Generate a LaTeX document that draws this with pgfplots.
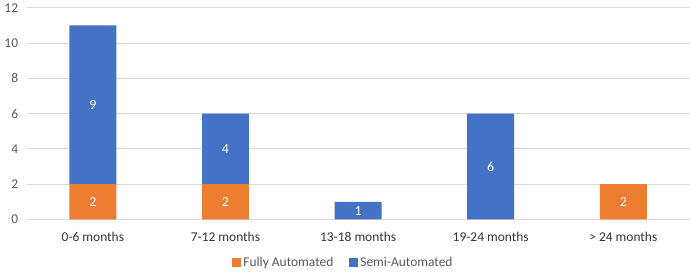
\documentclass[border=0pt]{standalone}
\usepackage{fontspec}
\setmainfont{Carlito}
\usepackage{pgfplots}
\pgfplotsset{compat=1.18}
\definecolor{xorange}{HTML}{ED7D31}
\definecolor{xblue}{HTML}{4472C4}
\definecolor{xgrid}{HTML}{D9D9D9}
\definecolor{xtext}{HTML}{595959}
\begin{document}
\begin{tikzpicture}
\begin{axis}[
  scale only axis, width=663.8bp, height=212bp,
  ybar stacked, bar width=47bp,
  xmin=-0.5, xmax=4.5, ymin=0, ymax=12, ytick={0,2,...,12},
  xtick={0,1,2,3,4},
  xticklabels={0-6 months,7-12 months,13-18 months,19-24 months,> 24 months},
  axis line style={draw=none}, tick style={draw=none},
  ymajorgrids, major grid style={xgrid, line width=0.8bp},
  clip=false,
  font=\fontsize{13.5}{15}\selectfont,
  ticklabel style={text=xtext, font=\fontsize{13.5}{15}\selectfont},
  /pgf/number format/assume math mode=true,
  yticklabel style={xshift=-5bp},
  xticklabel style={yshift=-9bp, text=black!80},
  legend style={draw=none, at={(0.478,-0.203)}, anchor=center, legend columns=-1,
    font=\fontsize{13.5}{15}\selectfont, text=xtext,
    /tikz/every even column/.append style={column sep=14bp}},
  legend image code/.code={\fill[#1] (0bp,-4.5bp) rectangle (9bp,4.5bp);},
  visualization depends on=rawy \as \rawy,
  nodes near coords={\ifdim\rawy pt>0pt\pgfmathprintnumber{\rawy}\fi},
  nodes near coords style={anchor=center, text=white, font=\fontsize{14}{15}\selectfont},
]
\addplot[fill=xorange, draw=none] coordinates {(0,2) (1,2) (2,0) (3,0) (4,2)};
\addplot[fill=xblue, draw=none] coordinates {(0,9) (1,4) (2,1) (3,6) (4,0)};
\legend{Fully Automated, Semi-Automated}
\path (rel axis cs:0,0) ++(-26.6bp,-57bp) rectangle ++(690bp,276bp);
\end{axis}
\end{tikzpicture}
\end{document}
